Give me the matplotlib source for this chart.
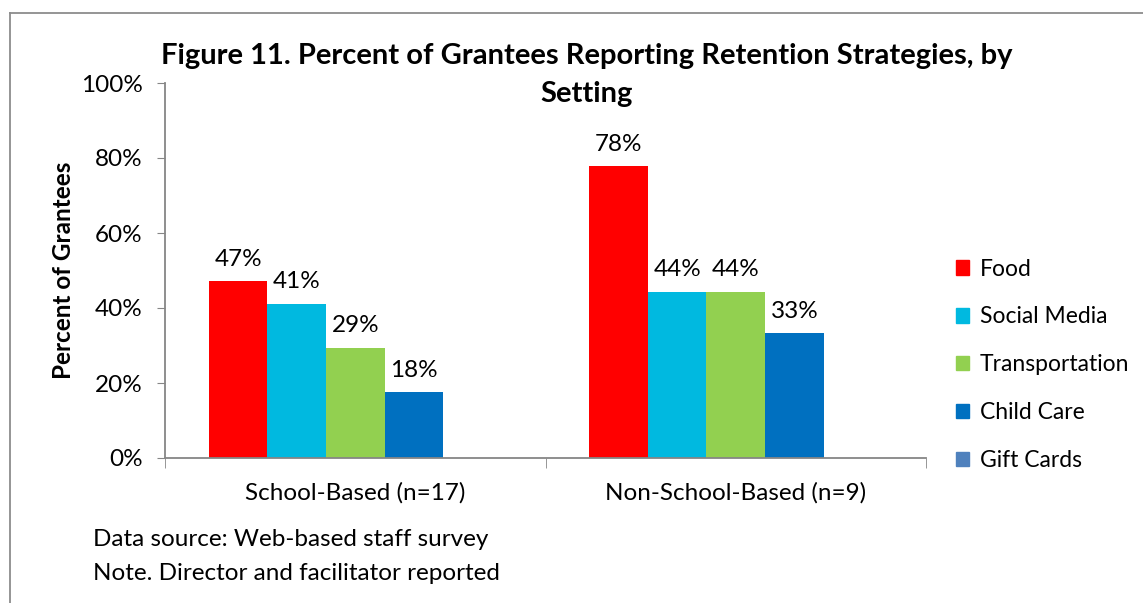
import matplotlib

matplotlib.use("Agg")
import matplotlib.pyplot as plt
import numpy as np
from matplotlib.lines import Line2D

plt.rcParams["font.family"] = ["Lato", "DejaVu Sans"]

# data (percent of grantees); gift cards reported by nobody -> no bar
settings = ["School-Based (n=17)", "Non-School-Based (n=9)"]
strategies = ["Food", "Social Media", "Transportation", "Child Care", "Gift Cards"]
food = [47.1, 77.8]
social_media = [41.2, 44.4]
transportation = [29.4, 44.4]
child_care = [17.6, 33.3]
gift_cards = [np.nan, np.nan]
colors = ["#FF0000", "#00B9E0", "#92D050", "#0070C0", "#4F81BD"]

series = [food, social_media, transportation, child_care, gift_cards]

FS = 17.5
W, H = 1143, 603
fig = plt.figure(figsize=(W / 100, H / 100), dpi=100)
ax = fig.add_axes([165 / W, 1 - 458 / H, (926 - 165) / W, (458 - 83) / H])

x = np.arange(len(settings))
bw = 0.154
for i, (vals, name, c) in enumerate(zip(series, strategies, colors)):
    pos = x + (i - 2) * bw
    ax.bar(pos, vals, width=bw, color=c, label=name, zorder=2)
    for p, v in zip(pos, vals):
        if not np.isnan(v):
            ax.text(p, v + 3, f"{v:.0f}%", ha="center", va="bottom", fontsize=FS)

ax.set_xlim(-0.5, 1.5)
ax.set_ylim(0, 100)
ax.set_yticks(np.arange(0, 101, 20))
ax.set_yticklabels([f"{t}%" for t in range(0, 101, 20)], fontsize=FS)
ax.set_xticks(x)
ax.set_xticklabels(settings, fontsize=FS)
ax.set_xticks([-0.5, 0.5, 1.5], minor=True)
ax.tick_params(axis="x", which="major", length=0, pad=17)
ax.tick_params(axis="x", which="minor", length=7, color="#868686", direction="out")
ax.tick_params(axis="y", length=6, color="#868686", direction="out", pad=10)
for s in ["top", "right"]:
    ax.spines[s].set_visible(False)
for s in ["left", "bottom"]:
    ax.spines[s].set_color("#868686")
    ax.spines[s].set_linewidth(1.3)

ax.set_ylabel("Percent of Grantees", fontsize=FS, fontweight="bold")
ax.yaxis.set_label_coords((75 - 165) / 761, 0.5)

fig.text(587 / W, 1 - 56 / H,
         "Figure 11. Percent of Grantees Reporting Retention Strategies, by",
         ha="center", va="center", fontsize=21, fontweight="bold")
fig.text(587 / W, 1 - 94 / H, "Setting",
         ha="center", va="center", fontsize=21, fontweight="bold")

handles = [plt.Rectangle((0, 0), 1, 1, color=c) for c in colors]
fig.legend(handles, strategies, loc="upper left", bbox_to_anchor=(935 / W, 1 - 238 / H),
           frameon=False, fontsize=16.5, handlelength=0.6, handleheight=0.6,
           handletextpad=0.45, labelspacing=1.17)

fig.text(93 / W, 1 - 540 / H, "Data source: Web-based staff survey", fontsize=FS, va="center")
fig.text(93 / W, 1 - 573 / H, "Note. Director and facilitator reported", fontsize=FS, va="center")

# chart frame (top and left edges visible)
fig.add_artist(Line2D([10 / W, 1], [1 - 13 / H, 1 - 13 / H], color="#8C8C8C", lw=1.3))
fig.add_artist(Line2D([10 / W, 10 / W], [0, 1 - 13 / H], color="#8C8C8C", lw=1.3))

fig.savefig("out.png", dpi=100)
